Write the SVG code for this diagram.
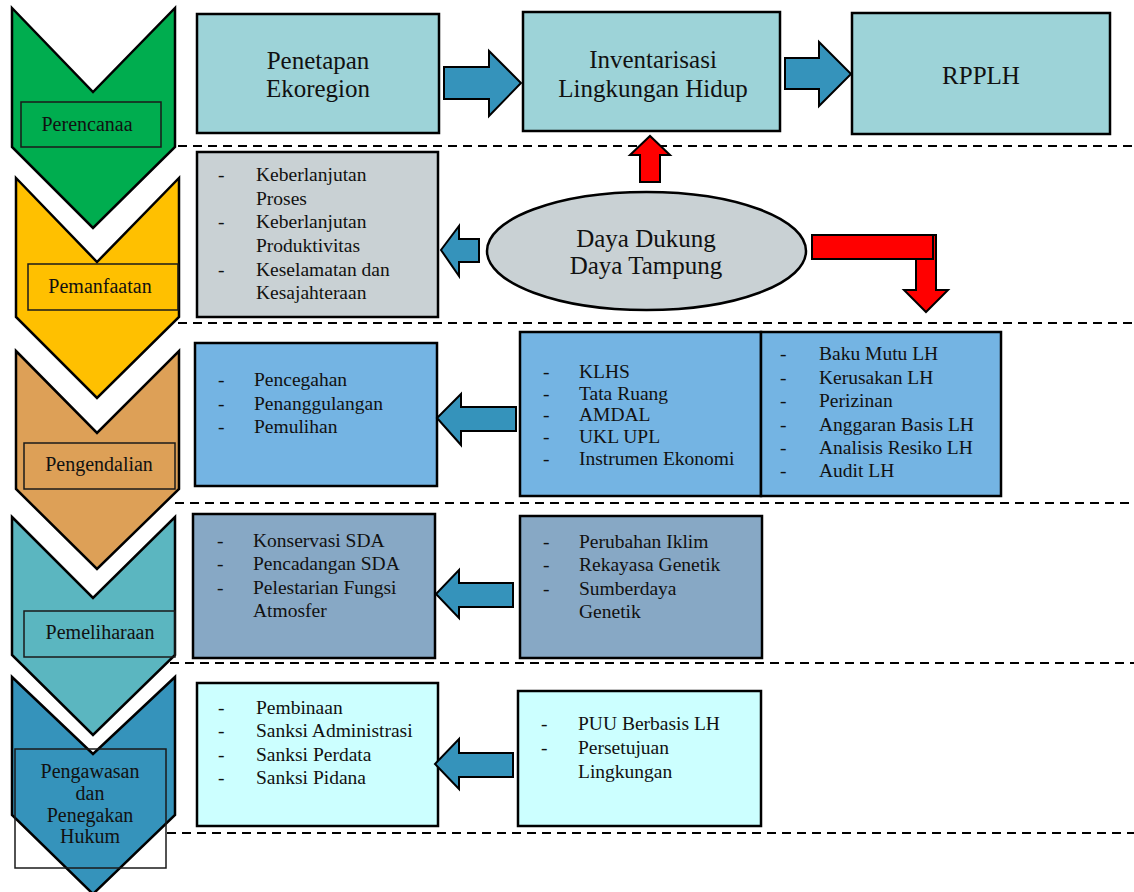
<svg xmlns="http://www.w3.org/2000/svg" width="1134" height="892" viewBox="0 0 1134 892">
<style>
text{font-family:"Liberation Serif","Times New Roman",serif;fill:#111}
.big{font-size:25px;text-anchor:middle}
.lbl{font-size:20px;text-anchor:middle}
.li{font-size:19.5px}
.box{stroke:#000;stroke-width:2.5}
.chev{stroke:#000;stroke-width:2.5;stroke-linejoin:miter}
.lbox{fill:none;stroke:#1a1a1a;stroke-width:1.5}
.dash{stroke:#000;stroke-width:2;stroke-dasharray:9 6;fill:none}
.barrow{fill:#3593BB;stroke:#000;stroke-width:2;stroke-linejoin:miter}
.rarrow{fill:#FF0000;stroke:#000;stroke-width:2;stroke-linejoin:miter}
.c1{fill:#9DD3D8}.c2{fill:#C9D1D4}.c3{fill:#74B4E3}.c4{fill:#87A8C5}.c5{fill:#CCFFFF}
</style>
<rect width="1134" height="892" fill="#fff"/>
<g id="separators">
<line class="dash" x1="178" y1="146" x2="1134" y2="146"/>
<line class="dash" x1="178" y1="323" x2="1134" y2="323"/>
<line class="dash" x1="175" y1="503" x2="1134" y2="503"/>
<line class="dash" x1="170" y1="663" x2="1134" y2="663"/>
<line class="dash" x1="167" y1="833" x2="1134" y2="833"/>
</g>
<g id="stage-perencanaan">
<polygon class="chev" fill="#00AD4F" points="12,8 93,92 175,8 175,147 93,228 12,147"/>
<rect class="lbox" x="21" y="102" width="140" height="45"/>
<text class="lbl" x="87" y="131">Perencanaa</text>
</g>
<g id="stage-pemanfaatan">
<polygon class="chev" fill="#FFC000" points="16,178 97,262 179,178 179,317 97,398 16,317"/>
<rect class="lbox" x="28" y="264" width="150" height="46"/>
<text class="lbl" x="100" y="293">Pemanfaatan</text>
</g>
<g id="stage-pengendalian">
<polygon class="chev" fill="#DDA057" points="16,351 97,433 179,351 179,489 97,569 16,489"/>
<rect class="lbox" x="24" y="443" width="151" height="46"/>
<text class="lbl" x="99" y="471">Pengendalian</text>
</g>
<g id="stage-pemeliharaan">
<polygon class="chev" fill="#5BB6C0" points="12,517 93,598 175,517 175,655 93,735 12,655"/>
<rect class="lbox" x="24" y="611" width="151" height="46"/>
<text class="lbl" x="100" y="639">Pemeliharaan</text>
</g>
<g id="stage-pengawasan">
<polygon class="chev" fill="#3593BB" points="12,677 93,754 175,677 175,815 93,894 12,815"/>
<rect class="lbox" x="15" y="749" width="151" height="119"/>
<text class="lbl" x="90" y="778">Pengawasan</text>
<text class="lbl" x="90" y="800">dan</text>
<text class="lbl" x="90" y="822">Penegakan</text>
<text class="lbl" x="90" y="843">Hukum</text>
</g>
<g id="penetapan-ekoregion">
<rect class="box c1" x="197" y="14" width="242" height="119"/>
<text class="big" x="318" y="69">Penetapan</text>
<text class="big" x="318" y="97">Ekoregion</text>
</g>
<g id="inventarisasi">
<rect class="box c1" x="523" y="12" width="257" height="119"/>
<text class="big" x="653" y="68">Inventarisasi</text>
<text class="big" x="653" y="97">Lingkungan Hidup</text>
</g>
<g id="rpplh">
<rect class="box c1" x="852" y="13" width="258" height="121"/>
<text class="big" x="981" y="84">RPPLH</text>
</g>
<g id="pemanfaatan-list">
<rect class="box c2" x="197" y="152" width="241" height="165"/>
<g class="li">
<text x="218" y="181">-</text><text x="256" y="181">Keberlanjutan</text>
<text x="256" y="205">Proses</text>
<text x="218" y="228">-</text><text x="256" y="228">Keberlanjutan</text>
<text x="256" y="252">Produktivitas</text>
<text x="218" y="276">-</text><text x="256" y="276">Keselamatan dan</text>
<text x="256" y="299">Kesajahteraan</text>
</g>
</g>
<g id="daya-dukung">
<ellipse cx="646.5" cy="251" rx="159.5" ry="59" fill="#C9D1D4" stroke="#000" stroke-width="2.5"/>
<text class="big" x="646" y="247">Daya Dukung</text>
<text class="big" x="646" y="274">Daya Tampung</text>
</g>
<g id="pengendalian-hasil">
<rect class="box c3" x="195" y="343" width="242" height="143"/>
<g class="li">
<text x="218" y="386">-</text><text x="254" y="386">Pencegahan</text>
<text x="218" y="410">-</text><text x="254" y="410">Penanggulangan</text>
<text x="218" y="433">-</text><text x="254" y="433">Pemulihan</text>
</g>
</g>
<g id="pengendalian-instrumen">
<rect class="box c3" x="520" y="332" width="241" height="164"/>
<g class="li">
<text x="543" y="378">-</text><text x="579" y="378">KLHS</text>
<text x="543" y="400">-</text><text x="579" y="400">Tata Ruang</text>
<text x="543" y="421">-</text><text x="579" y="421">AMDAL</text>
<text x="543" y="443">-</text><text x="579" y="443">UKL UPL</text>
<text x="543" y="465">-</text><text x="579" y="465">Instrumen Ekonomi</text>
</g>
</g>
<g id="pengendalian-baku">
<rect class="box c3" x="761" y="332" width="240" height="164"/>
<g class="li">
<text x="780" y="360">-</text><text x="819" y="360">Baku Mutu LH</text>
<text x="780" y="384">-</text><text x="819" y="384">Kerusakan LH</text>
<text x="780" y="407">-</text><text x="819" y="407">Perizinan</text>
<text x="780" y="431">-</text><text x="819" y="431">Anggaran Basis LH</text>
<text x="780" y="454">-</text><text x="819" y="454">Analisis Resiko LH</text>
<text x="780" y="477">-</text><text x="819" y="477">Audit LH</text>
</g>
</g>
<g id="pemeliharaan-hasil">
<rect class="box c4" x="193" y="514" width="242" height="144"/>
<g class="li">
<text x="217" y="547">-</text><text x="253" y="547">Konservasi SDA</text>
<text x="217" y="570">-</text><text x="253" y="570">Pencadangan SDA</text>
<text x="217" y="594">-</text><text x="253" y="594">Pelestarian Fungsi</text>
<text x="253" y="617">Atmosfer</text>
</g>
</g>
<g id="pemeliharaan-isu">
<rect class="box c4" x="520" y="516" width="242" height="142"/>
<g class="li">
<text x="543" y="548">-</text><text x="579" y="548">Perubahan Iklim</text>
<text x="543" y="571">-</text><text x="579" y="571">Rekayasa Genetik</text>
<text x="543" y="595">-</text><text x="579" y="595">Sumberdaya</text>
<text x="579" y="618">Genetik</text>
</g>
</g>
<g id="pengawasan-hasil">
<rect class="box c5" x="197" y="683" width="241" height="143"/>
<g class="li">
<text x="218" y="714">-</text><text x="256" y="714">Pembinaan</text>
<text x="218" y="737">-</text><text x="256" y="737">Sanksi Administrasi</text>
<text x="218" y="761">-</text><text x="256" y="761">Sanksi Perdata</text>
<text x="218" y="784">-</text><text x="256" y="784">Sanksi Pidana</text>
</g>
</g>
<g id="pengawasan-dasar">
<rect class="box c5" x="518" y="691" width="243" height="135"/>
<g class="li">
<text x="541" y="730">-</text><text x="578" y="730">PUU Berbasis LH</text>
<text x="541" y="754">-</text><text x="578" y="754">Persetujuan</text>
<text x="578" y="778">Lingkungan</text>
</g>
</g>
<g id="connectors">
<polygon class="barrow" points="444,67 489,67 489,51 521,83 489,116 489,99 444,99"/>
<polygon class="barrow" points="785,58 819,58 819,42 851,74 819,106 819,89 785,89"/>
<polygon class="barrow" points="479,239 459,239 459,226 441,250 459,276 459,262 479,262"/>
<polygon class="barrow" points="516,407 461,407 461,394 437,418 461,445 461,431 516,431"/>
<polygon class="barrow" points="513,583 459,583 459,570 436,594 459,618 459,607 513,607"/>
<polygon class="barrow" points="513,753 459,753 459,739 435,764 459,789 459,777 513,777"/>
<polygon class="rarrow" points="640,182 640,155 630,155 650,136 670,155 660,155 660,182"/>
<polygon class="rarrow" points="916,235 936,235 936,290 948,290 926,312 904,290 916,290"/>
<rect class="rarrow" x="812" y="235" width="121" height="24"/>
</g>
</svg>
